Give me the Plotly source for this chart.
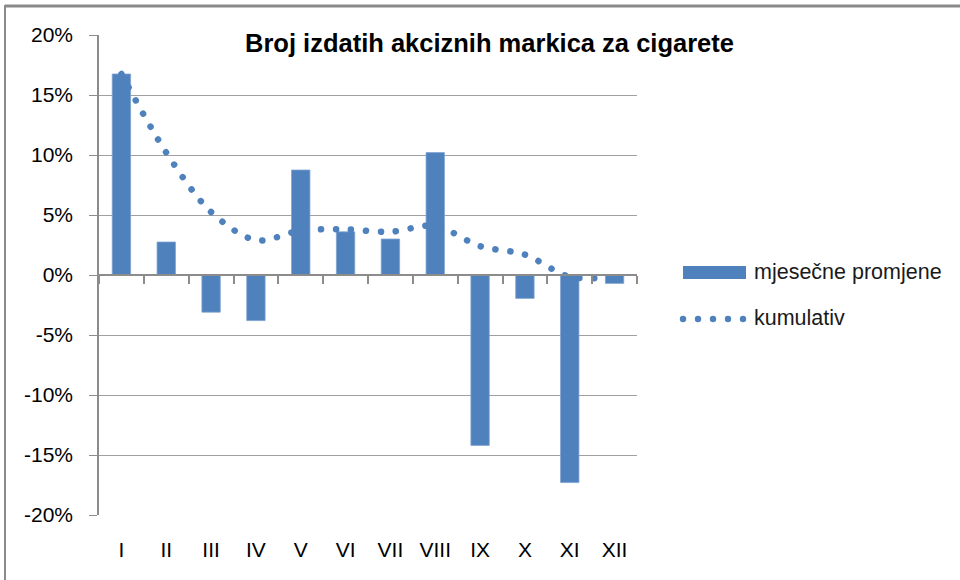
import plotly.graph_objects as go

months = ["I", "II", "III", "IV", "V", "VI", "VII", "VIII", "IX", "X", "XI", "XII"]
mjesecne = [0.1675, 0.0275, -0.031, -0.038, 0.0875, 0.036, 0.030, 0.102, -0.142, -0.0195, -0.173, -0.007]
kumulativ = [0.1675, 0.102, 0.0525, 0.029, 0.037, 0.038, 0.036, 0.041, 0.024, 0.017, -0.0015, -0.0015]
y_ticks = [-0.20, -0.15, -0.10, -0.05, 0.0, 0.05, 0.10, 0.15, 0.20]
y_tick_labels = ["-20%", "-15%", "-10%", "-5%", "0%", "5%", "10%", "15%", "20%"]

title_text = "Broj izdatih akciznih markica za cigarete"
legend_bar = "mjesečne promjene"
legend_line = "kumulativ"

BLUE = "#4f81bd"
GRID = "#a0a0a0"
AXIS = "#8c8c8c"
FONT = "Liberation Sans, Arial, sans-serif"

W, H = 960, 580
L, R, T, B = 99, 323, 35, 65
pw, ph = W - L - R, H - T - B


def px(x):
    return (x - L) / pw


def py(y):
    return (H - B - y) / ph


fig = go.Figure()
fig.add_trace(go.Bar(x=months, y=mjesecne, name=legend_bar,
                     marker=dict(color=BLUE, line=dict(color="#7fa3d0", width=0.8)),
                     xaxis="x", yaxis="y", showlegend=False))
fig.add_trace(go.Scatter(x=months, y=kumulativ, name=legend_line, mode="lines",
                         line=dict(color=BLUE, width=6.5, dash="0.1px,14.9px", shape="spline", smoothing=0.9),
                         xaxis="x2", yaxis="y", showlegend=False))

shapes = []
# outer border of the chart box: top and left edges
shapes.append(dict(type="line", xref="paper", yref="paper", x0=px(5), x1=px(960), y0=py(6), y1=py(6),
                   line=dict(color="#8a8a8a", width=3)))
shapes.append(dict(type="line", xref="paper", yref="paper", x0=px(5), x1=px(5), y0=py(5), y1=py(600),
                   line=dict(color="#8a8a8a", width=2)))
# legend swatches
shapes.append(dict(type="rect", xref="paper", yref="paper", x0=px(683), x1=px(746), y0=py(279), y1=py(266),
                   fillcolor=BLUE, line=dict(width=0)))
for i in range(5):
    cx = 683 + 15 * i
    shapes.append(dict(type="circle", xref="paper", yref="paper", x0=px(cx - 3.2), x1=px(cx + 3.2),
                       y0=py(319 + 3.2), y1=py(319 - 3.2), fillcolor=BLUE, line=dict(width=0)))

annotations = [
    dict(text="<b>" + title_text + "</b>", xref="paper", yref="paper", x=px(489), y=py(43),
         xanchor="center", yanchor="middle", showarrow=False, font=dict(family=FONT, size=25.5, color="#000")),
    dict(text=legend_bar, xref="paper", yref="paper", x=px(752), y=py(272), xanchor="left", yanchor="middle",
         showarrow=False, font=dict(family=FONT, size=21.5, color="#1a1a1a")),
    dict(text=legend_line, xref="paper", yref="paper", x=px(752), y=py(318), xanchor="left", yanchor="middle",
         showarrow=False, font=dict(family=FONT, size=21.5, color="#1a1a1a")),
]

fig.update_layout(
    width=W, height=H,
    margin=dict(l=L, r=R, t=T, b=B),
    paper_bgcolor="white", plot_bgcolor="white",
    bargap=0.59,
    showlegend=False,
    xaxis=dict(type="category", categoryorder="array", categoryarray=months, range=[-0.5, 11.5],
               showgrid=False, showline=False, ticks="", zeroline=False,
               tickfont=dict(family=FONT, size=21, color="#000"), ticklabelstandoff=20),
    xaxis2=dict(type="category", categoryorder="array", categoryarray=months, range=[-0.5, 11.5],
                overlaying="x", anchor="free", position=0.5, side="bottom",
                showgrid=False, showline=True, linecolor=AXIS, linewidth=1.5,
                ticks="outside", tickson="boundaries", ticklen=8, tickcolor=AXIS, tickwidth=1.5,
                showticklabels=False, zeroline=False),
    yaxis=dict(range=[-0.2, 0.2], tickvals=y_ticks, ticktext=y_tick_labels,
               showgrid=True, gridcolor=GRID, gridwidth=1.2,
               showline=True, linecolor=AXIS, linewidth=1.5,
               ticks="outside", ticklen=8, tickcolor=AXIS, tickwidth=1.2,
               zeroline=False, tickfont=dict(family=FONT, size=21, color="#000"), ticklabelstandoff=12),
    shapes=shapes,
    annotations=annotations,
)

post = ("var s=document.createElement('style');"
        "s.textContent='html,body{margin:0 !important;padding:0 !important;overflow:hidden} "
        ".scatterlayer .js-line{stroke-linecap:round !important}';"
        "document.head.appendChild(s);")
fig.write_html("out.html", post_script=post, config={"displayModeBar": False})
